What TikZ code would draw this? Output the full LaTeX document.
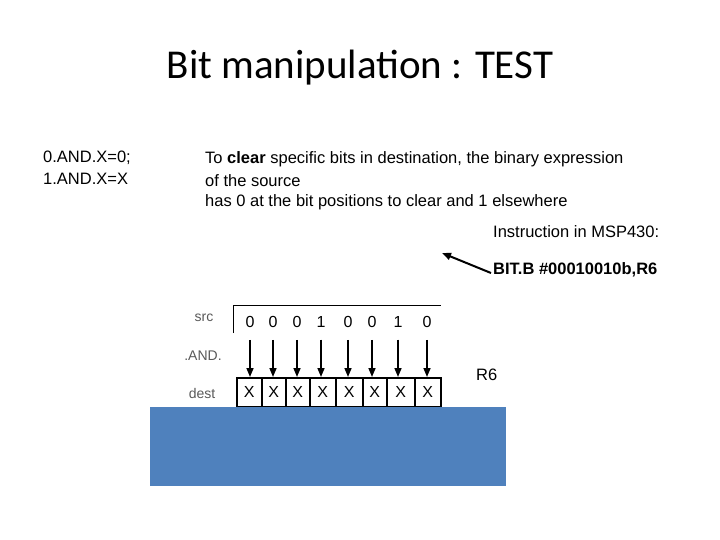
\documentclass[tikz,border=0pt]{standalone}
\usepackage{fontspec}
\setmainfont{Liberation Sans}
\newfontfamily\titlefont{Carlito}
\usetikzlibrary{arrows.meta}
\begin{document}
\begin{tikzpicture}[x=1pt,y=-1pt,
 txt/.style={anchor=west,inner sep=0,font=\fontsize{16.5}{19}\selectfont},
 lbl/.style={inner sep=0,font=\fontsize{14}{16}\selectfont,text=black!65},
 bitarrow/.style={-{Triangle[width=7pt,length=9pt]},line width=1.6pt},
 cellbox/.style={draw,line width=1.5pt,minimum width=24pt,minimum height=29pt,inner sep=0,anchor=north west,font=\fontsize{16}{18}\selectfont}]
\useasboundingbox (0,0) rectangle (720,540);
\node[inner sep=0,font=\titlefont\fontsize{41}{48}\selectfont] (title) at (360,68) {Bit manipulation : TEST};
\node[txt] (r1) at (43,158) {0.AND.X=0;};
\node[txt] (r2) at (43,179) {1.AND.X=X};
\node[txt] (t1) at (205,159) {To \textbf{clear} specific bits in destination, the binary expression};
\node[txt] (t2) at (205,181) {of the source};
\node[txt] (t3) at (205,202) {has 0 at the bit positions to clear and 1 elsewhere};
\node[txt] (t4) at (493,232) {Instruction in MSP430:};
\node[txt] (t5) at (493,270) {\textbf{BIT.B \#00010010b,R6}};
\node[txt] (r6) at (476,375) {R6};
\coordinate (ae) at (442,253);
\draw[-{Triangle[width=7pt,length=9pt]},line width=2pt] ([shift={(-2pt,-3pt)}]t5.west) -- (ae);
\node[lbl] (src) at (204,318) {src};
\node[lbl] (and) at (203,356) {.AND.};
\node[lbl] (dest) at (202,393) {dest};
\coordinate (s0) at (233,333);
\coordinate (s1) at (233,305);
\coordinate (s2) at (441,305);
\draw[line width=1pt] (s0) -- (s1) -- (s2);
\foreach \i/\x/\b/\l/\w in {0/250/0/236/25,1/273/0/261/24,2/297/0/285/24,3/321/1/309/26,4/348/0/335/27,5/372/0/362/24,6/398/1/386/28,7/427/0/414/26}{
  \node[inner sep=0,font=\fontsize{16}{18}\selectfont] (b\i) at (\x,322) {\b};
  \node[cellbox,minimum width=\w pt] (c\i) at (\l,377) {X};
  \draw[bitarrow] ([yshift=-12pt]b\i.south) -- (c\i.north -| b\i);
}
\fill[fill={rgb,255:red,79;green,129;blue,189}] (150,407) rectangle (506,486);
\end{tikzpicture}
\end{document}
